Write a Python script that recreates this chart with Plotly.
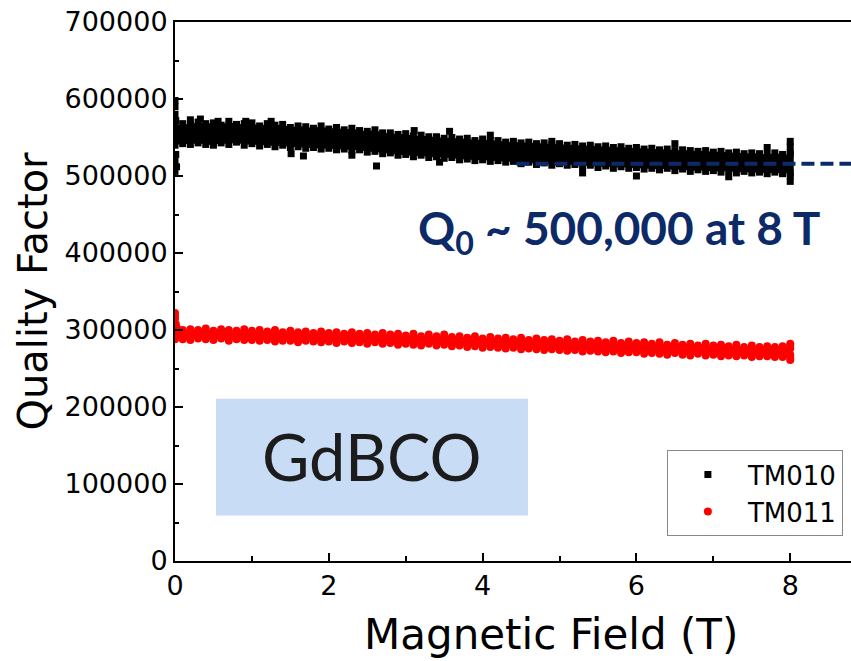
import plotly.graph_objects as go

# Magnetic field sweep points (T)
field_T = [0.0, 0.1, 0.2, 0.3, 0.4, 0.5, 0.6, 0.7, 0.8, 0.9,
           1.0, 1.1, 1.2, 1.3, 1.4, 1.5, 1.6, 1.7, 1.8, 1.9,
           2.0, 2.1, 2.2, 2.3, 2.4, 2.5, 2.6, 2.7, 2.8, 2.9,
           3.0, 3.1, 3.2, 3.3, 3.4, 3.5, 3.6, 3.7, 3.8, 3.9,
           4.0, 4.1, 4.2, 4.3, 4.4, 4.5, 4.6, 4.7, 4.8, 4.9,
           5.0, 5.1, 5.2, 5.3, 5.4, 5.5, 5.6, 5.7, 5.8, 5.9,
           6.0, 6.1, 6.2, 6.3, 6.4, 6.5, 6.6, 6.7, 6.8, 6.9,
           7.0, 7.1, 7.2, 7.3, 7.4, 7.5, 7.6, 7.7, 7.8, 7.9, 8.0]

# TM010 quality factor readings (thousands): upper / lower scatter of each sweep point
tm010_upper_k = [566, 568, 567, 570, 568, 569, 566, 571, 567, 568,
                 569, 565, 568, 566, 567, 563, 565, 564, 562, 565,
                 561, 563, 560, 562, 559, 558, 560, 556, 556, 554,
                 555, 552, 553, 551, 551, 549, 550, 548, 549, 546,
                 548, 546, 546, 544, 545, 543, 544, 542, 543, 541,
                 542, 540, 541, 539, 540, 538, 539, 537, 538, 536,
                 537, 535, 536, 534, 535, 533, 534, 533, 532, 533,
                 531, 532, 530, 531, 529, 530, 529, 528, 530, 528, 528]
tm010_lower_k = [540, 542, 541, 543, 541, 540, 543, 541, 544, 540,
                 542, 539, 541, 538, 540, 537, 538, 536, 537, 535,
                 536, 534, 535, 533, 534, 531, 532, 529, 530, 527,
                 528, 525, 527, 524, 525, 523, 524, 521, 522, 520,
                 521, 519, 520, 518, 519, 516, 518, 515, 517, 514,
                 516, 514, 515, 512, 514, 511, 513, 510, 512, 510,
                 511, 509, 510, 508, 510, 507, 509, 506, 508, 506,
                 507, 505, 507, 504, 506, 504, 505, 503, 505, 503, 504]
# TM010 isolated readings (field T, Q in thousands)
tm010_extra_x = [0.0, 0.0, 0.0, 0.01, 0.01, 0.0, 0.02, 0.0,
                 0.2, 0.33, 0.56, 0.92, 1.25, 1.51, 1.67, 2.3, 2.62, 3.11, 3.44, 3.57,
                 4.1, 4.9, 5.3, 6.0, 6.5, 7.2, 7.7,
                 8.0, 8.0, 8.0, 8.0, 8.0, 8.0, 8.0]
tm010_extra_k = [598, 590, 580, 572, 528, 520, 512, 506,
                 573, 574, 571, 571, 571, 529, 526, 527, 513, 559, 518, 558,
                 553, 545, 504, 500, 542, 499, 537,
                 545, 538, 530, 520, 510, 500, 493]

# TM011 quality factor readings (thousands)
tm011_upper_k = [318, 300, 301, 300, 302, 299, 301, 300, 299, 301,
                 299, 300, 298, 300, 297, 299, 297, 298, 296, 298,
                 296, 297, 295, 297, 295, 296, 294, 296, 294, 295,
                 293, 295, 292, 294, 292, 294, 291, 292, 290, 292,
                 289, 291, 289, 290, 288, 290, 287, 289, 287, 288,
                 286, 288, 285, 287, 285, 286, 284, 286, 283, 285,
                 283, 284, 282, 284, 281, 283, 281, 282, 280, 282,
                 280, 281, 279, 281, 278, 280, 278, 279, 278, 279, 280]
tm011_lower_k = [288, 288, 287, 289, 288, 287, 289, 286, 288, 287,
                 287, 286, 287, 285, 286, 286, 284, 286, 285, 284,
                 285, 283, 285, 283, 284, 282, 284, 282, 283, 281,
                 282, 281, 280, 282, 280, 281, 279, 280, 278, 279,
                 277, 278, 277, 276, 277, 275, 276, 275, 274, 275,
                 274, 273, 274, 272, 273, 272, 271, 272, 270, 271,
                 271, 269, 270, 269, 268, 270, 268, 267, 269, 267,
                 268, 266, 267, 266, 267, 265, 266, 266, 265, 265, 264]
tm011_extra_x = [0.0, 0.0, 0.01, 8.0, 8.0, 8.0, 8.0]
tm011_extra_k = [322, 315, 308, 282, 276, 268, 261]

# Reference level quoted at 8 T
q0_line = 516000
q0_line_start = 4.44

FONT = "DejaVu Sans"
NAVY = "#0c2a68"

def scale(vals):
    # readings are listed in thousands
    return [v * 1000 for v in vals]

fig = go.Figure()

# dense cores of the two measurement bands
fig.add_trace(go.Scatter(x=field_T, y=scale(tm010_lower_k), mode="lines",
                         line=dict(width=0, color="black"), showlegend=False, hoverinfo="skip"))
fig.add_trace(go.Scatter(x=field_T, y=scale(tm010_upper_k), mode="lines", fill="tonexty",
                         fillcolor="black", line=dict(width=0, color="black"),
                         showlegend=False, hoverinfo="skip"))
fig.add_trace(go.Scatter(x=field_T, y=scale(tm011_lower_k), mode="lines",
                         line=dict(width=0, color="red"), showlegend=False, hoverinfo="skip"))
fig.add_trace(go.Scatter(x=field_T, y=scale(tm011_upper_k), mode="lines", fill="tonexty",
                         fillcolor="#ff0000", line=dict(width=0, color="red"),
                         showlegend=False, hoverinfo="skip"))

# individual readings
fig.add_trace(go.Scatter(
    x=field_T + field_T + tm010_extra_x,
    y=scale(tm010_upper_k + tm010_lower_k + tm010_extra_k),
    mode="markers", name="TM010",
    marker=dict(symbol="square", size=7, color="black", line=dict(width=0))))
fig.add_trace(go.Scatter(
    x=field_T + field_T + tm011_extra_x,
    y=scale(tm011_upper_k + tm011_lower_k + tm011_extra_k),
    mode="markers", name="TM011",
    marker=dict(symbol="circle", size=8, color="#ff0000", line=dict(width=0))))

# Q0 guide line
fig.add_shape(type="line", xref="x", yref="y", x0=q0_line_start, x1=8.8,
              y0=q0_line, y1=q0_line, layer="above",
              line=dict(color=NAVY, width=4, dash="13px,6px"))

# material label box
fig.add_shape(type="rect", xref="x", yref="y", x0=0.533, x1=4.59, y0=59000, y1=210800,
              fillcolor="#c8dcf5", line=dict(width=0), layer="below")
fig.add_annotation(x=2.56, y=137000, xref="x", yref="y", text="GdBCO", showarrow=False,
                   font=dict(family="Lato", size=65, color="#1c1c1c"))

fig.add_annotation(x=3.14, y=428000, xref="x", yref="y", xanchor="left", yanchor="middle",
                   text="<b>Q<sub>0</sub> ~ 500,000 at 8 T</b>", showarrow=False,
                   font=dict(family="Lato", size=46, color=NAVY))

# axis titles
fig.add_annotation(x=0.556, y=-0.137, xref="paper", yref="paper", xanchor="center",
                   yanchor="middle", text="Magnetic Field (T)", showarrow=False,
                   font=dict(family=FONT, size=42, color="black"))
fig.add_annotation(x=-0.2115, y=0.5, xref="paper", yref="paper", xanchor="center",
                   yanchor="middle", text="Quality Factor", textangle=-90, showarrow=False,
                   font=dict(family=FONT, size=40, color="black"))

axis_common = dict(showgrid=False, zeroline=False, showline=True, linecolor="black",
                   linewidth=2, ticks="inside", tickcolor="black", tickwidth=2,
                   tickfont=dict(family=FONT, size=27, color="black"))

fig.update_xaxes(range=[0, 8.79], dtick=2, tick0=0, ticklen=8, mirror=True,
                 minor=dict(dtick=1, ticks="inside", ticklen=5, tickwidth=2,
                            tickcolor="black", showgrid=False),
                 **axis_common)
fig.update_yaxes(range=[0, 700000], dtick=100000, tick0=0, ticklen=8, tickformat="d",
                 minor=dict(dtick=50000, ticks="inside", ticklen=4, tickwidth=2,
                            tickcolor="black", showgrid=False),
                 **axis_common)

fig.update_layout(
    width=851, height=661,
    margin=dict(l=175, r=0, t=22, b=100),
    paper_bgcolor="white", plot_bgcolor="white",
    legend=dict(x=0.988, xanchor="right", y=0.046, yanchor="bottom",
                traceorder="normal",
                bgcolor="white", bordercolor="#888888", borderwidth=1,
                font=dict(family=FONT, size=26, color="black"),
                itemwidth=70, tracegroupgap=0),
)

fig.write_html("out.html")
